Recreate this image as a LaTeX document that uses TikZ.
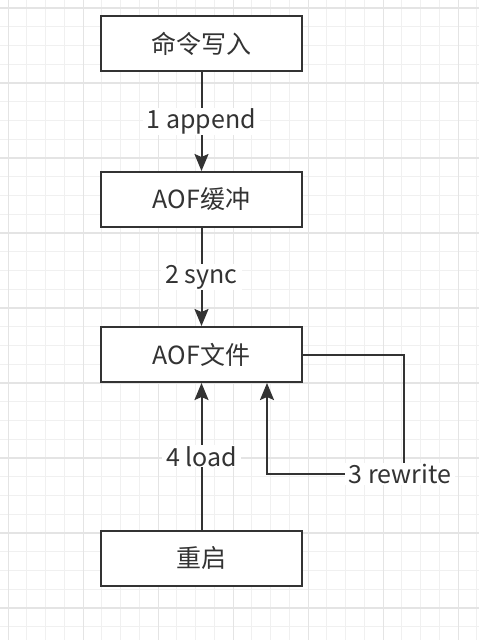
\documentclass[tikz,border=0pt]{standalone}
\usepackage{fontspec}
\setmainfont{Noto Sans CJK SC}
\usetikzlibrary{arrows.meta}
\definecolor{ink}{HTML}{333333}
\definecolor{gridminor}{HTML}{F0F0F0}
\definecolor{gridmajor}{HTML}{E4E4E4}
\tikzset{
  box/.style={draw=ink, line width=2pt, fill=white, minimum width=201pt, minimum height=55pt, inner sep=0pt, text=ink, font=\fontsize{25}{28}\selectfont},
  conn/.style={draw=ink, line width=2pt},
  arr/.style={conn, -{Stealth[length=17pt, width=14pt, inset=3pt]}},
  lbl/.style={fill=white, text=ink, inner xsep=4pt, inner ysep=1pt, font=\fontsize{25}{28}\selectfont}
}
\begin{document}
\begin{tikzpicture}[x=1pt,y=-1pt]
\useasboundingbox (0,0) rectangle (479,640);
\fill[white] (0,0) rectangle (479,640);
% grid
\foreach \i in {0,...,25} {
  \pgfmathsetmacro{\p}{8+18.75*\i}
  \draw[gridminor, line width=0.9pt] (\p,0) -- (\p,640);
}
\foreach \i in {0,...,34} {
  \pgfmathsetmacro{\p}{8+18.75*\i}
  \draw[gridminor, line width=0.9pt] (0,\p) -- (479,\p);
}
\foreach \i in {0,...,6} {
  \pgfmathsetmacro{\p}{8.3+75*\i}
  \draw[gridmajor, line width=1.3pt] (\p,0) -- (\p,640);
}
\foreach \i in {0,...,8} {
  \pgfmathsetmacro{\p}{8+75*\i}
  \draw[gridmajor, line width=1.3pt] (0,\p) -- (479,\p);
}
% nodes
\node[box] (cmd) at (201.5,43.5) {命令写入};
\node[box] (buf) at (201.5,199.5) {AOF缓冲};
\node[box] (file) at (201.5,354.5) {AOF文件};
\node[box] (restart) at (201.5,558) {重启};
% connectors
\draw[arr] (cmd) -- (buf) node[lbl, midway] {1 append};
\draw[arr] (buf) -- (file) node[lbl, midway] {2 sync};
\draw[arr] (restart) -- (file) node[lbl, midway] {4 load};
\coordinate (rtop) at (404,354.5);
\coordinate (rbot) at (404,474);
\coordinate (lbot) at (267,474);
\draw[arr] (file.east) -- (rtop) -- (rbot) -- (lbot) -- (lbot |- file.south);
\node[lbl] (rw) at (400,474) {3 rewrite};
\end{tikzpicture}
\end{document}
